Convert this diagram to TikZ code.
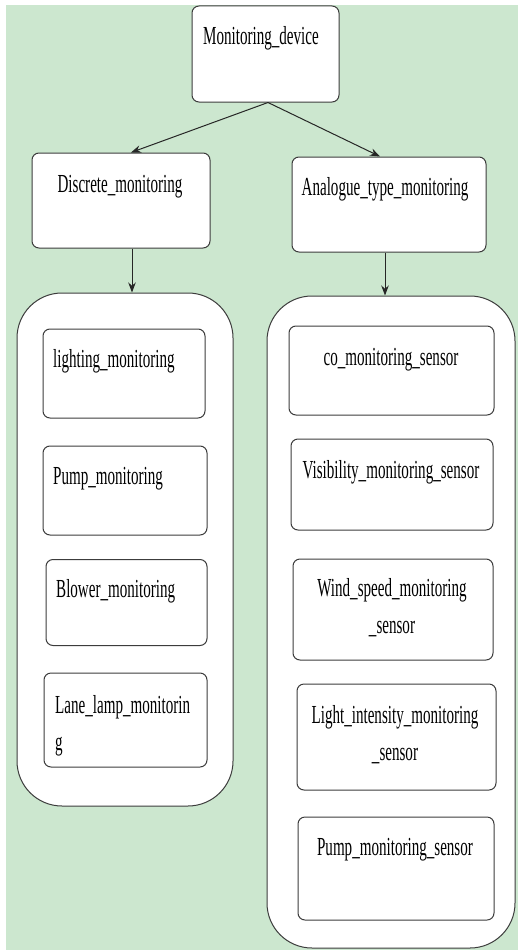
\documentclass[tikz,border=0pt]{standalone}
\usepackage{fontspec}
\setmainfont{Liberation Serif}[FakeStretch=0.58]
\usetikzlibrary{arrows.meta}
\definecolor{bggreen}{RGB}{204,231,207}
\definecolor{edge}{RGB}{60,60,60}
\begin{document}
\begin{tikzpicture}[x=1pt,y=-1pt,
  box/.style={draw=edge,fill=white,line width=1pt,rounded corners=7pt,inner sep=0pt},
  group/.style={draw=edge,fill=white,line width=1pt,rounded corners=45pt,inner sep=0pt},
  lbl/.style={inner sep=0pt,font=\fontsize{26}{37}\selectfont},
  conn/.style={draw=black!85,line width=1pt,-{Stealth[length=10pt,width=7.5pt]}}]
\useasboundingbox (0,0) rectangle (519,950);
\fill[white] (0,0) rectangle (519,950);
\fill[bggreen] (6,5) rectangle (518,950);
% groups
\node[group,minimum width=216pt,minimum height=513pt] (lc) at (125,549.5) {};
\node[group,minimum width=248pt,minimum height=652pt] (rc) at (391,622) {};
% top boxes
\node[box,minimum width=147pt,minimum height=96pt] (md) at (265.5,54) {};
\node[box,minimum width=178pt,minimum height=95pt] (dm) at (121,200.5) {};
\node[box,minimum width=194pt,minimum height=95pt] (at) at (389,204.5) {};
\node[lbl,anchor=base] (mdt) at (261,45) {Monitoring\_device};
\node[lbl,anchor=base] (dmt) at (120,192) {Discrete\_monitoring};
\node[lbl,anchor=base] (att) at (385,195) {Analogue\_type\_monitoring};
% left inner
\node[box,minimum width=162pt,minimum height=89pt] (l1) at (124,373.5) {};
\node[box,minimum width=164pt,minimum height=89pt] (l2) at (125,490.5) {};
\node[box,minimum width=161pt,minimum height=86pt] (l3) at (126.5,602.5) {};
\node[box,minimum width=163pt,minimum height=94pt] (l4) at (125.5,720) {};
\node[lbl,anchor=base west] (l1t) at (53,367) {lighting\_monitoring};
\node[lbl,anchor=base west] (l2t) at (53,484) {Pump\_monitoring};
\node[lbl,anchor=base west] (l3t) at (56,597) {Blower\_monitoring};
\node[lbl,anchor=base west,align=left] (l4t) at (55,750) {Lane\_lamp\_monitorin\\g};
% right inner
\node[box,minimum width=205pt,minimum height=89pt] (r1) at (391.5,370.5) {};
\node[box,minimum width=202pt,minimum height=91pt] (r2) at (392,484.5) {};
\node[box,minimum width=200pt,minimum height=101pt] (r3) at (393,609.5) {};
\node[box,minimum width=199pt,minimum height=106pt] (r4) at (396.5,737) {};
\node[box,minimum width=196pt,minimum height=103pt] (r5) at (396,868.5) {};
\node[lbl,anchor=base] (r1t) at (391,365) {co\_monitoring\_sensor};
\node[lbl,anchor=base] (r2t) at (391,478) {Visibility\_monitoring\_sensor};
\node[lbl,anchor=base,align=center] (r3t) at (392,633) {Wind\_speed\_monitoring\\\_sensor};
\node[lbl,anchor=base,align=center] (r4t) at (395,760) {Light\_intensity\_monitoring\\\_sensor};
\node[lbl,anchor=base] (r5t) at (395,855) {Pump\_monitoring\_sensor};
% connectors
\draw[conn] ([xshift=2.5pt]md.south) -- ([xshift=10pt]dm.north);
\draw[conn] ([xshift=2.5pt]md.south) -- ([xshift=-9pt]at.north);
\draw[conn] ([xshift=11pt]dm.south) -- ([xshift=7pt]lc.north);
\draw[conn] ([xshift=-4pt]at.south) -- ([xshift=-6pt]rc.north);
\end{tikzpicture}
\end{document}
